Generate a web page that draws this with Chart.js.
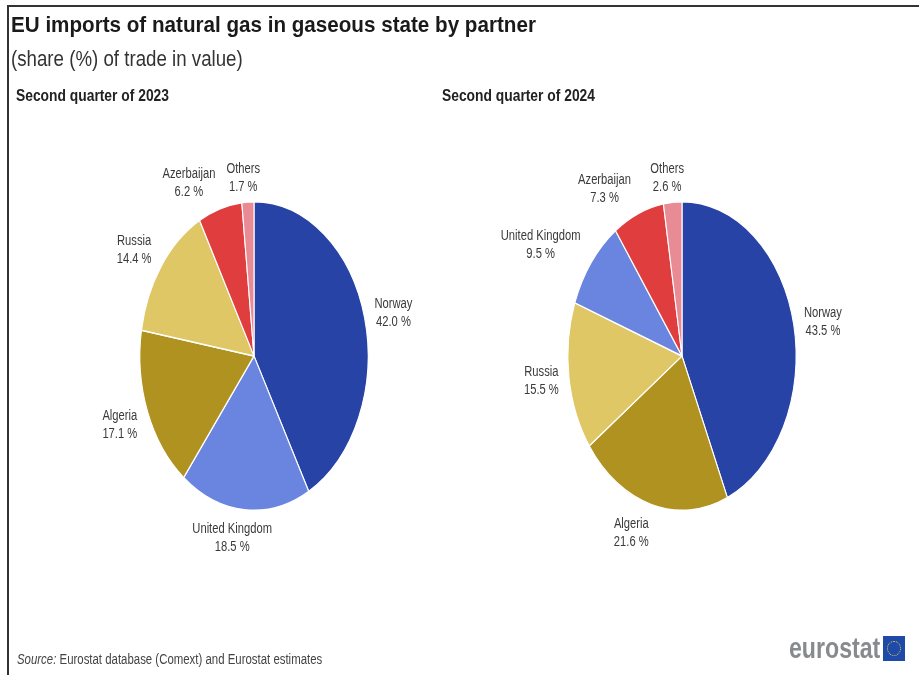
<!DOCTYPE html>
<html>
<head>
<meta charset="utf-8">
<title>EU imports of natural gas</title>
<script src="https://cdn.jsdelivr.net/npm/chart.js@4"></script>
<style>
    html, body { margin: 0; padding: 0; background: #fff; overflow: hidden; }
    body { width: 919px; height: 675px; position: relative; font-family: "Liberation Sans", Arial, sans-serif; }
    #frameTop { position: absolute; left: 7px; top: 5px; width: 912px; height: 2px; background: #333; }
    #frameLeft { position: absolute; left: 7px; top: 5px; width: 2px; height: 670px; background: #333; }
    canvas { position: absolute; top: 0; }
    .txt { position: absolute; white-space: nowrap; transform-origin: 0 0; }
    #flag { position: absolute; left: 883px; top: 636px; width: 22px; height: 25px; background: #1f4aa8; }
    #stars { position: absolute; left: 4px; top: 5px; width: 12px; height: 13px; border: 1px dotted #e8d44a; border-radius: 50%; }
</style>
</head>
<body>
<div id="frameTop"></div>
<div id="frameLeft"></div>
<canvas id="pie2023"></canvas>
<canvas id="pie2024"></canvas>
<div class="txt" data-width="525" style="left:11px;top:12px;font-size:22px;font-weight:bold;color:#1a1a1a">EU imports of natural gas in gaseous state by partner</div>
<div class="txt" data-width="232" style="left:11px;top:46px;font-size:22px;color:#333">(share (%) of trade in value)</div>
<div class="txt" data-width="153" style="left:16px;top:87px;font-size:16px;font-weight:bold;color:#222">Second quarter of 2023</div>
<div class="txt" data-width="153" style="left:442px;top:87px;font-size:16px;font-weight:bold;color:#222">Second quarter of 2024</div>
<div class="txt" data-width="305" style="left:17px;top:651px;font-size:14px;color:#444"><i>Source:</i> Eurostat database (Comext) and Eurostat estimates</div>
<div class="txt" data-width="91" style="left:789px;top:632px;font-size:29px;font-weight:bold;color:#868b90">eurostat</div>
<div id="flag"><div id="stars"></div></div>

<script>
const labels2023 = ['Norway', 'United Kingdom', 'Algeria', 'Russia', 'Azerbaijan', 'Others'];
const values2023 = [42.0, 18.5, 17.1, 14.4, 6.2, 1.7];
const colors2023 = ['#2743a5', '#6a85e0', '#b09220', '#e0c766', '#e03e3e', '#e98b94'];

const labels2024 = ['Norway', 'Algeria', 'Russia', 'United Kingdom', 'Azerbaijan', 'Others'];
const values2024 = [43.5, 21.6, 15.5, 9.5, 7.3, 2.6];
const colors2024 = ['#2743a5', '#b09220', '#e0c766', '#6a85e0', '#e03e3e', '#e98b94'];

// the picture is squeezed sideways, so the pies are ellipses and the text is narrow
const PIE_SQUEEZE = 0.74;
const TEXT_SQUEEZE = 0.8;

// small moves of each label away from its computed spot
const nudge2023 = [[-1, 2], [-10, 1], [1, 3], [-2, 0], [-22, 1], [-3, 4]];
const nudge2024 = [[-1, 3], [-12, 2], [3, 1], [-26, -1], [-22, 1], [-3, 4]];

const squeezePlugin = {
    id: 'squeeze',
    beforeDatasetsDraw(chart) {
        const arc = chart.getDatasetMeta(0).data[0];
        chart.ctx.save();
        chart.ctx.translate(arc.x, arc.y);
        chart.ctx.scale(PIE_SQUEEZE, 1);
        chart.ctx.translate(-arc.x, -arc.y);
    },
    afterDatasetsDraw(chart) {
        chart.ctx.restore();
    }
};

const sliceLabelPlugin = {
    id: 'sliceLabels',
    afterDraw(chart, args, opts) {
        const ctx = chart.ctx;
        const values = chart.data.datasets[0].data;
        chart.getDatasetMeta(0).data.forEach((arc, i) => {
            const mid = (arc.startAngle + arc.endAngle) / 2;
            const x = arc.x + Math.cos(mid) * arc.outerRadius * PIE_SQUEEZE * 1.27 + opts.nudge[i][0];
            const y = arc.y + Math.sin(mid) * arc.outerRadius * 1.18 + opts.nudge[i][1];
            ctx.save();
            ctx.translate(x, y);
            ctx.scale(TEXT_SQUEEZE, 1);
            ctx.font = '14px "Liberation Sans", Arial, sans-serif';
            ctx.fillStyle = '#3a3a3a';
            ctx.textAlign = 'center';
            ctx.textBaseline = 'middle';
            ctx.fillText(chart.data.labels[i], 0, -9);
            ctx.fillText(values[i].toFixed(1) + ' %', 0, 9);
            ctx.restore();
        });
    }
};

function renderPie(id, labels, values, colors, nudge, left, width, padLeft, padRight) {
    const canvas = document.getElementById(id);
    canvas.style.left = left + 'px';
    canvas.style.width = width + 'px';
    canvas.style.height = '675px';
    canvas.width = width;
    canvas.height = 675;

    return new Chart(canvas.getContext('2d'), {
        type: 'pie',
        data: {
            labels: labels,
            datasets: [{
                data: values,
                backgroundColor: colors,
                borderColor: '#ffffff',
                borderWidth: 1.5
            }]
        },
        options: {
            responsive: false,
            animation: false,
            layout: { padding: { top: 201, bottom: 164, left: padLeft, right: padRight } },
            plugins: {
                legend: { display: false },
                title: { display: false },
                tooltip: { enabled: false },
                sliceLabels: { nudge: nudge }
            }
        },
        plugins: [squeezePlugin, sliceLabelPlugin]
    });
}

renderPie('pie2023', labels2023, values2023, colors2023, nudge2023, 0, 440, 99, 31);
renderPie('pie2024', labels2024, values2024, colors2024, nudge2024, 440, 479, 87, 82);

// squeeze the html texts to the width they have in the picture
document.querySelectorAll('.txt').forEach(el => {
    const target = Number(el.dataset.width);
    el.style.transform = `scaleX(${target / el.offsetWidth})`;
});
</script>
</body>
</html>
